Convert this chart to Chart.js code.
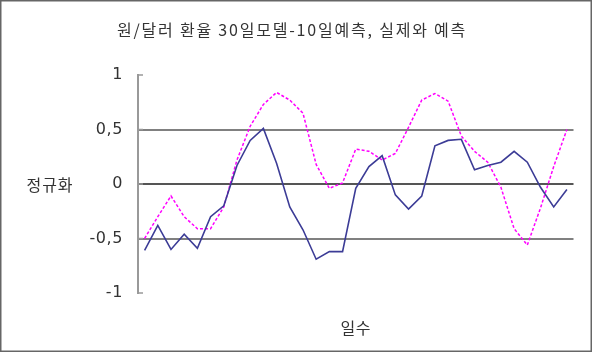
<!DOCTYPE html>
<html>
<head>
<meta charset="utf-8">
<script src="https://cdn.jsdelivr.net/npm/chart.js@4/dist/chart.umd.min.js"></script>
<style>
  html, body { margin: 0; padding: 0; background: #ffffff; }
  #wrap { width: 601px; height: 353px; }
</style>
</head>
<body>
<div id="wrap"><canvas id="c" width="601" height="353"></canvas></div>
<script>
// ---- data ----
const days = ['1','2','3','4','5','6','7','8','9','10','11','12','13','14','15','16','17',
              '18','19','20','21','22','23','24','25','26','27','28','29','30','31','32','33'];
const actual = [-0.61, -0.38, -0.60, -0.46, -0.59, -0.30, -0.20, 0.17, 0.40, 0.51, 0.19,
                -0.21, -0.42, -0.69, -0.62, -0.62, -0.04, 0.16, 0.26, -0.10, -0.23, -0.11,
                0.35, 0.40, 0.41, 0.13, 0.17, 0.20, 0.30, 0.20, -0.03, -0.21, -0.05];
const predicted = [-0.50, -0.30, -0.11, -0.30, -0.41, -0.41, -0.21, 0.22, 0.53, 0.73, 0.84,
                   0.77, 0.65, 0.18, -0.04, 0.01, 0.32, 0.30, 0.22, 0.28, 0.52, 0.77,
                   0.83, 0.76, 0.44, 0.30, 0.20, -0.03, -0.41, -0.56, -0.22, 0.16, 0.50];
const yTicks = [-1, -0.5, 0, 0.5, 1];
const titleText = '원/달러 환율 30일모델-10일예측, 실제와 예측';
const yTitleText = '정규화';
const xTitleText = '일수';
// -----------------------------------------------

const KFONT = '"Noto Sans CJK KR", "Noto Sans", sans-serif';

const frame = {
  id: 'frame',
  beforeDraw(chart) {
    const ctx = chart.ctx;
    ctx.save();
    ctx.fillStyle = '#ffffff';
    ctx.fillRect(0, 0, chart.width, chart.height);
    ctx.strokeStyle = '#666666';
    ctx.lineWidth = 1.5;
    ctx.strokeRect(0.75, 0.75, 590.5, 350.5);
    // chart title
    ctx.fillStyle = '#333333';
    ctx.font = '16px ' + KFONT;
    ctx.textAlign = 'left';
    ctx.textBaseline = 'middle';
    if ('letterSpacing' in ctx) ctx.letterSpacing = '1.8px';
    const w = ctx.measureText(titleText).width;
    ctx.fillText(titleText, 292 - w / 2, 30);
    ctx.restore();
    // base state for axis texts drawn next
    if ('letterSpacing' in ctx) ctx.letterSpacing = '0.6px';
  },
  beforeDatasetsDraw(chart) {
    if ('letterSpacing' in chart.ctx) chart.ctx.letterSpacing = '0px';
  },
  afterDraw(chart) {
    const ctx = chart.ctx;
    const y = chart.scales.y;
    const area = chart.chartArea;
    ctx.save();
    // inward tick marks on the value axis
    ctx.strokeStyle = '#999999';
    ctx.lineWidth = 1.5;
    y.ticks.forEach(t => {
      const py = y.getPixelForValue(t.value);
      ctx.beginPath();
      ctx.moveTo(area.left, py);
      ctx.lineTo(area.left + 5, py);
      ctx.stroke();
    });
    // horizontal y-axis title
    ctx.fillStyle = '#333333';
    ctx.font = '16px ' + KFONT;
    ctx.textAlign = 'left';
    ctx.textBaseline = 'middle';
    if ('letterSpacing' in ctx) ctx.letterSpacing = '1px';
    const w = ctx.measureText(yTitleText).width;
    ctx.fillText(yTitleText, 50 - w / 2, y.getPixelForValue(0) + 1);
    ctx.restore();
  }
};

new Chart(document.getElementById('c'), {
  type: 'line',
  data: {
    labels: days,
    datasets: [
      {
        label: '실제',
        data: actual,
        borderColor: '#3c3c96',
        borderWidth: 1.6,
        pointRadius: 0,
        tension: 0,
        fill: false
      },
      {
        label: '예측',
        data: predicted,
        borderColor: '#ff00ff',
        borderWidth: 1.5,
        borderDash: [3, 2],
        pointRadius: 0,
        tension: 0,
        fill: false
      }
    ]
  },
  options: {
    responsive: false,
    animation: false,
    devicePixelRatio: 1,
    layout: { padding: { left: 0, right: 27.5, top: 75, bottom: 0 } },
    plugins: {
      legend: { display: false },
      tooltip: { enabled: false },
      title: { display: false }
    },
    scales: {
      x: {
        type: 'category',
        offset: true,
        grid: { display: false, drawTicks: false },
        border: { display: false },
        ticks: { display: false },
        title: {
          display: true,
          text: xTitleText,
          color: '#333333',
          font: { family: KFONT, size: 16 },
          padding: { top: 25.4, bottom: 15.4 }
        }
      },
      y: {
        min: -1,
        max: 1,
        afterBuildTicks(scale) {
          scale.ticks = yTicks.map(v => ({ value: v }));
        },
        afterFit(scale) { scale.width = 138; },
        grid: {
          drawTicks: false,
          lineWidth: 2,
          color(ctx) {
            const v = ctx.tick ? ctx.tick.value : null;
            if (v === 0) return '#555555';
            if (v === 1 || v === -1) return 'rgba(0,0,0,0)';
            return '#808080';
          }
        },
        border: { display: true, color: '#999999', width: 2 },
        ticks: {
          padding: 15,
          color: '#333333',
          font: { family: '"DejaVu Sans", sans-serif', size: 16 },
          callback: v => String(v).replace('.', ',')
        }
      }
    }
  },
  plugins: [frame]
});
</script>
</body>
</html>
